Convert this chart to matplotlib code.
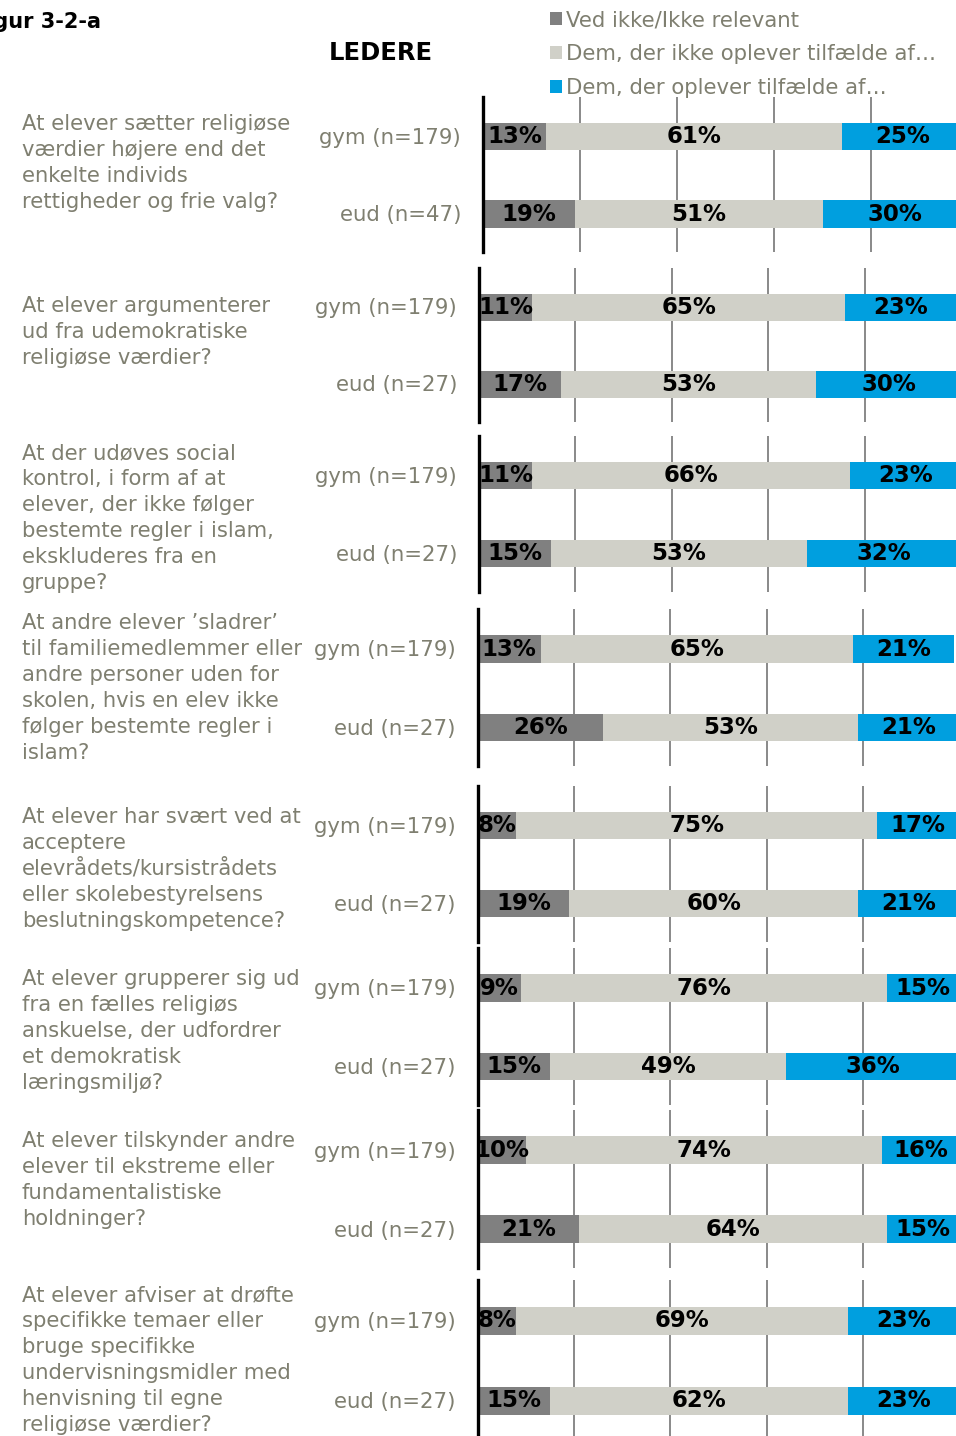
import matplotlib
matplotlib.use("Agg")
import matplotlib.pyplot as plt
import numpy as np

# ---------------- data ----------------
questions = [
    "At elever sætter religiøse\nværdier højere end det\nenkelte individs\nrettigheder og frie valg?",
    "At elever argumenterer\nud fra udemokratiske\nreligiøse værdier?",
    "At der udøves social\nkontrol, i form af at\nelever, der ikke følger\nbestemte regler i islam,\nekskluderes fra en\ngruppe?",
    "At andre elever ’sladrer’\ntil familiemedlemmer eller\nandre personer uden for\nskolen, hvis en elev ikke\nfølger bestemte regler i\nislam?",
    "At elever har svært ved at\nacceptere\nelevrådets/kursistrådets\neller skolebestyrelsens\nbeslutningskompetence?",
    "At elever grupperer sig ud\nfra en fælles religiøs\nanskuelse, der udfordrer\net demokratisk\nlæringsmiljø?",
    "At elever tilskynder andre\nelever til ekstreme eller\nfundamentalistiske\nholdninger?",
    "At elever afviser at drøfte\nspecifikke temaer eller\nbruge specifikke\nundervisningsmidler med\nhenvisning til egne\nreligiøse værdier?",
]
gym_labels = ["gym (n=179)"] * 8
eud_labels = ["eud (n=47)"] + ["eud (n=27)"] * 7

series_names = ["Ved ikke/Ikke relevant",
                "Dem, der ikke oplever tilfælde af…",
                "Dem, der oplever tilfælde af…"]

gym_ved_ikke = [13, 11, 11, 13, 8, 9, 10, 8]
gym_ikke_oplever = [61, 65, 66, 65, 75, 76, 74, 69]
gym_oplever = [25, 23, 23, 21, 17, 15, 16, 23]

eud_ved_ikke = [19, 17, 15, 26, 19, 15, 21, 15]
eud_ikke_oplever = [51, 53, 53, 53, 60, 49, 64, 62]
eud_oplever = [30, 30, 32, 21, 21, 36, 15, 23]

colors = ["#808080", "#d0d0c8", "#009fdf"]
text_grey = "#7f7f70"

# ---------------- layout (pixels) ----------------
W, H = 956, 1436
fig = plt.figure(figsize=(W / 100, H / 100), dpi=100)
plt.rcParams['font.family'] = ['DejaVu Sans']

def fx(x):
    return x / W

def fy(y):
    return 1 - y / H

ax_left = [483, 479, 479, 478, 478, 478, 478, 478]
ax_width = [485, 482, 482, 481, 481, 481, 481, 481]
ax_top = [97, 268, 436, 609, 786, 948, 1110, 1280]
ax_bot = [252, 422, 592, 766, 942, 1105, 1268, 1440]
q_baseline = [130, 312, 459, 629, 823, 985, 1147, 1301]
line_step = 26

first_containers = None
for i in range(8):
    l, w, t, b = ax_left[i], ax_width[i], ax_top[i], ax_bot[i]
    ax = fig.add_axes([fx(l), fy(b), w / W, (b - t) / H])
    ax.set_xlim(0, 100)
    ax.set_ylim(-0.49, 1.51)
    vals = np.array([[gym_ved_ikke[i], gym_ikke_oplever[i], gym_oplever[i]],
                     [eud_ved_ikke[i], eud_ikke_oplever[i], eud_oplever[i]]], dtype=float)
    ypos = [1, 0]
    left = np.zeros(2)
    conts = []
    for s in range(3):
        c = ax.barh(ypos, vals[:, s], left=left, height=0.35, color=colors[s],
                    edgecolor='none', zorder=2, label=series_names[s])
        conts.append(c)
        for j in range(2):
            ax.text(left[j] + vals[j, s] / 2, ypos[j], f"{int(vals[j, s])}%",
                    ha='center', va='center', fontsize=16.5, fontweight='bold',
                    color='black', zorder=3, clip_on=True)
        left += vals[:, s]
    if first_containers is None:
        first_containers = conts
    ax.set_xticks([20, 40, 60, 80])
    ax.set_yticks([])
    ax.grid(axis='x', color='#808080', linewidth=1.3, zorder=0)
    ax.set_axisbelow(True)
    ax.tick_params(axis='x', length=0, labelbottom=False)
    for sp in ['top', 'right', 'bottom']:
        ax.spines[sp].set_visible(False)
    ax.spines['left'].set_linewidth(2.4)
    ax.spines['left'].set_color('black')
    ax.spines['left'].set_zorder(5)

    # group labels
    gy = t + (b - t) / 4 + 2
    ey = b - (b - t) / 4 + 2
    fig.text(fx(l - 22), fy(gy), gym_labels[i], ha='right', va='center',
             fontsize=15.3, color=text_grey)
    fig.text(fx(l - 22), fy(ey), eud_labels[i], ha='right', va='center',
             fontsize=15.3, color=text_grey)

    # question text
    for k, line in enumerate(questions[i].split("\n")):
        fig.text(fx(22), fy(q_baseline[i] + k * line_step), line, ha='left',
                 va='baseline', fontsize=15.2, color=text_grey)

# titles
fig.text(fx(101), fy(22), "Figur 3-2-a", ha='right', va='center',
         fontsize=15, fontweight='bold', color='black')
fig.text(fx(381), fy(53), "LEDERE", ha='center', va='center',
         fontsize=17.5, fontweight='bold', color='black')

# legend
fig.legend(handles=first_containers, labels=series_names, loc='upper left',
           bbox_to_anchor=(fx(550), fy(10)), frameon=False, fontsize=15.3,
           labelcolor=text_grey, handlelength=0.55, handleheight=0.55,
           handletextpad=0.2, labelspacing=0.66, borderpad=0, borderaxespad=0)

fig.savefig("out.png", dpi=100)
